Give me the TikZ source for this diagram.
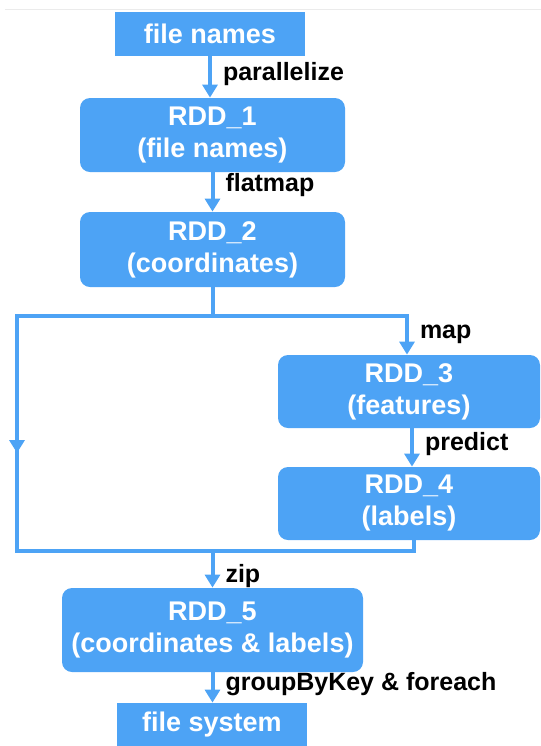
\documentclass[tikz,border=0pt]{standalone}
\usepackage{fontspec}
\setmainfont{Liberation Sans}
\usetikzlibrary{arrows.meta}
\definecolor{rddblue}{HTML}{4DA3F5}
\newcommand{\boxfont}{\fontsize{13.5}{16}\selectfont\bfseries}
\newcommand{\lblfont}{\fontsize{12.5}{15}\selectfont\bfseries}

\begin{document}
\begin{tikzpicture}[x=0.5pt,y=-0.5pt]
                        \tikzstyle{rdd}=[fill=rddblue, text=white, font=\boxfont, align=center,
                                         inner sep=0pt, rounded corners=5pt]
                        \tikzstyle{plain}=[fill=rddblue, text=white, font=\boxfont, inner sep=0pt]
                        \tikzstyle{flow}=[draw=rddblue, line width=2pt]
                        \tikzstyle{arr}=[-{Triangle[width=7.5pt,length=6.5pt]}]
                        \tikzstyle{lbl}=[font=\lblfont, anchor=base west, inner sep=0pt,
                                         xshift=5.5pt, yshift=-1.5pt]
                        \useasboundingbox (0,0) rectangle (541,746);
                        \draw[black!8, line width=0.5pt] (5,9) -- (541,9);
                        % boxes
                        \node[plain, minimum width=95pt, minimum height=22pt] (fnames) at (210,34) {file names};
                        \node[rdd, minimum width=132.5pt, minimum height=37pt] (r1) at (212.5,135) {RDD\_1\\(file names)};
                        \node[rdd, minimum width=132.5pt, minimum height=37.5pt] (r2) at (212.5,249.5) {RDD\_2\\(coordinates)};
                        \node[rdd, minimum width=131pt, minimum height=36.5pt] (r3) at (409,391.5) {RDD\_3\\(features)};
                        \node[rdd, minimum width=131pt, minimum height=36.5pt] (r4) at (409,503.5) {RDD\_4\\(labels)};
                        \node[rdd, minimum width=150.5pt, minimum height=42pt] (r5) at (212.5,630) {RDD\_5\\(coordinates \& labels)};
                        \node[plain, minimum width=95pt, minimum height=22pt] (fsys) at (212,725) {file system};
                        % branch points
                        \coordinate (split) at (212.5,316);
                        \coordinate (lt) at (17,316);
                        \coordinate (lmid) at (17,453);
                        \coordinate (lb) at (17,551);
                        \coordinate (rb) at (414,551);
                        \coordinate (join) at (212.5,551);
                        \coordinate (mapt) at (407,316);
                        \coordinate (predt) at (412,428);
                        % connectors
                        \draw[flow, arr] (fnames.south) -- (fnames.south |- r1.north)
                            node[lbl, midway] {parallelize};
                        \draw[flow, arr] (r1.south) -- (r2.north)
                            node[lbl, midway, yshift=2pt] {flatmap};
                        \draw[flow] (r2.south) -- (split);
                        \draw[flow, arr] (split) -- (mapt) -- (mapt |- r3.north)
                            node[lbl, midway] {map};
                        \draw[flow, arr] (predt) -- (predt |- r4.north)
                            node[lbl, midway] {predict};
                        \draw[flow] (split) -- (lt) -- (lb) -- (rb) -- (rb |- r4.south);
                        \draw[flow, arr] (lt) -- (lmid);
                        \draw[flow, arr] (join) -- (join |- r5.north)
                            node[lbl, midway, yshift=-5pt] {zip};
                        \draw[flow, arr] (r5.south) -- (r5.south |- fsys.north)
                            node[lbl, midway] {groupByKey \& foreach};
\end{tikzpicture}
\end{document}
